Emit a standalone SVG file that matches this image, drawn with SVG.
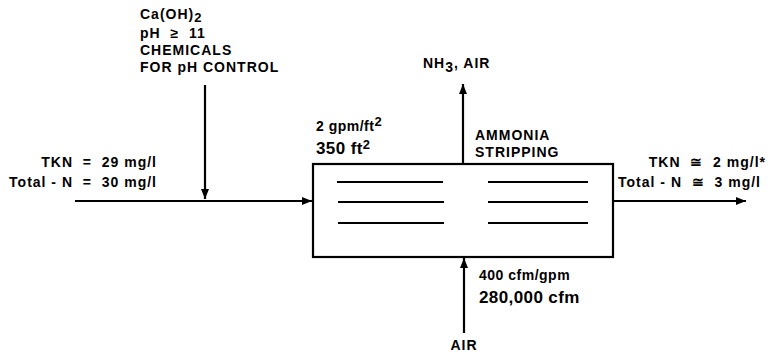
<svg xmlns="http://www.w3.org/2000/svg" width="771" height="356" viewBox="0 0 771 356">
<style>
text{font-family:"Liberation Sans",Arial,sans-serif;font-weight:bold;fill:#000;white-space:pre}
.s{font-size:14px;letter-spacing:1px}
.m{font-size:14px;letter-spacing:0.5px}
.b{font-size:17px;letter-spacing:0.4px}
.ln{stroke:#000;stroke-width:2.2;fill:none}
.fl{stroke:#000;stroke-width:2.2}
</style>
<defs>
<marker id="ah" viewBox="0 0 10 8" refX="10" refY="4" markerWidth="10" markerHeight="8" markerUnits="userSpaceOnUse" orient="auto">
<path d="M0,0 L10,4 L0,8 Z" fill="#000"/>
</marker>
</defs>
<g id="connectors">
<line class="ln" x1="75" y1="201" x2="312" y2="201" marker-end="url(#ah)"/>
<line class="ln" x1="205" y1="85" x2="205" y2="199" marker-end="url(#ah)"/>
<line class="ln" x1="463" y1="164" x2="463" y2="84" marker-end="url(#ah)"/>
<line class="ln" x1="464" y1="333" x2="464" y2="258" marker-end="url(#ah)"/>
<line class="ln" x1="613" y1="201" x2="746" y2="201" marker-end="url(#ah)"/>
</g>
<g id="stripper">
<rect x="313" y="164" width="300" height="93" fill="#fff" stroke="#000" stroke-width="2.2"/>
<line class="fl" x1="337" y1="182" x2="443" y2="182"/>
<line class="fl" x1="338" y1="202" x2="444" y2="202"/>
<line class="fl" x1="338" y1="223" x2="444" y2="223"/>
<line class="fl" x1="488" y1="182" x2="588" y2="182"/>
<line class="fl" x1="488" y1="202" x2="588" y2="202"/>
<line class="fl" x1="488" y1="223" x2="588" y2="223"/>
<text class="s" x="475" y="140">AMMONIA</text>
<text class="s" x="475" y="157">STRIPPING</text>
<text class="m" x="316" y="131">2 gpm/ft<tspan font-size="13" dy="-5">2</tspan></text>
<text class="b" x="316" y="154">350 ft<tspan font-size="13" dy="-5">2</tspan></text>
</g>
<g id="chemicals">
<text class="s" x="140" y="19">Ca(OH)<tspan font-size="13" dy="3">2</tspan></text>
<text class="s" x="140" y="38">pH  ≥  11</text>
<text class="s" x="140" y="55">CHEMICALS</text>
<text class="s" x="140" y="72">FOR pH CONTROL</text>
</g>
<g id="influent">
<text class="s" x="157" y="167" text-anchor="end">TKN  =  29 mg/l</text>
<text class="s" x="157" y="187" text-anchor="end">Total - N  =  30 mg/l</text>
</g>
<g id="offgas">
<text class="s" x="423" y="68">NH<tspan dy="4">3</tspan><tspan dy="-4">, AIR</tspan></text>
</g>
<g id="air">
<text class="m" x="479" y="280">400 cfm/gpm</text>
<text class="b" x="479" y="303">280,000 cfm</text>
<text class="s" x="464" y="350" text-anchor="middle">AIR</text>
</g>
<g id="effluent">
<text class="s" x="766" y="167" text-anchor="end">TKN  ≅  2 mg/l*</text>
<text class="s" x="761" y="187" text-anchor="end">Total - N  ≅  3 mg/l</text>
</g>
</svg>
